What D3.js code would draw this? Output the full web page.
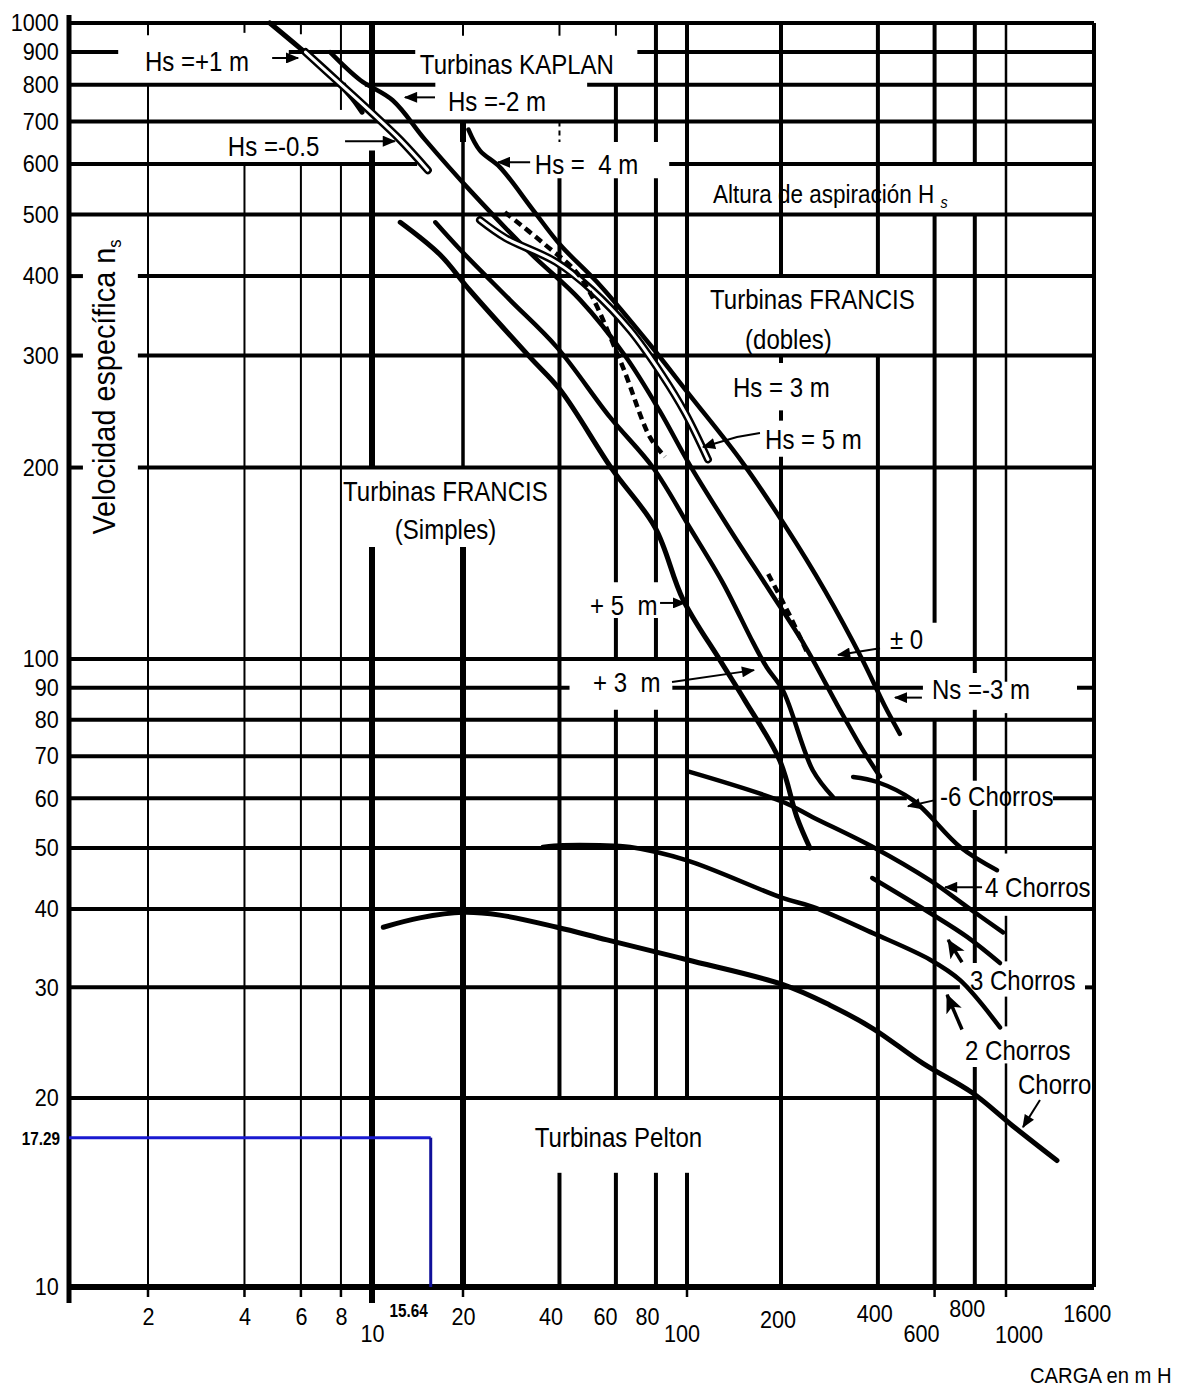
<!DOCTYPE html>
<html lang="es">
<head>
<meta charset="utf-8">
<title>Velocidad específica en función de la carga</title>
<script src="https://cdn.jsdelivr.net/npm/d3@7"></script>
<style>
  html, body { margin: 0; padding: 0; background: #fff; }
  svg text { font-family: "Liberation Sans", Arial, sans-serif; fill: #000; white-space: pre; }
</style>
</head>
<body>
<svg id="chart" width="1191" height="1389"></svg>
<script>
// ---------- Axis ticks ----------
const headTicks = [2, 4, 6, 8, 10, 15.64, 20, 40, 60, 80, 100, 200, 400, 600, 800, 1000, 1600];
const nsTicks = [10, 17.29, 20, 30, 40, 50, 60, 70, 80, 90, 100, 200, 300, 400, 500, 600, 700, 800, 900, 1000];

// ---------- Operating point ----------
const designHead = 15.64;
const designNs = 17.29;

// ---------- Curves: [carga H (m), velocidad específica ns] ----------
const kaplanHsPlus1 = [[4.8, 1000], [5.96, 913], [7.4, 831], [8.66, 762], [9.31, 724]];
const kaplanHsMinus05 = [[6.2, 900], [7.9, 805], [10, 722], [12.4, 655], [15.3, 587]];
const francisHsZero = [[7.4, 900], [9.2, 813], [11.7, 756], [15, 655], [21, 546], [32.4, 435], [46.4, 367],
  [64, 300], [82, 246], [102, 202], [137, 160], [184, 128], [237, 105], [301, 84], [357, 72], [406, 65]];
const francisHsMinus3 = [[20.8, 680], [22.6, 630], [26.1, 593], [33.1, 508], [40.2, 448],
  [53.5, 387], [76.7, 312], [102, 260], [148, 206], [206, 162], [274, 128], [357, 100], [421, 84], [468, 76]];
const simplesPlus5 = [[12.4, 486], [16.8, 432], [21, 380], [32.4, 298], [40.2, 265], [58.3, 199], [79.5, 161],
  [97.2, 124], [127.5, 99.6], [153, 86], [198, 69], [224, 56], [246, 50]];
const simplesPlus3 = [[16.2, 486], [19.6, 440], [28, 367], [39.3, 309], [57.5, 240], [78.3, 200], [102, 161],
  [130, 132], [163, 106], [180, 97], [203, 89], [251, 66.5], [290, 60.3]];
const doblesHs5Upper = [[27, 504], [36.1, 448], [46.4, 399], [61.8, 295], [76.7, 223], [85.4, 208]];
const doblesHs5Lower = [[182, 136], [213, 117], [243, 101.5]];
const doblesHs3 = [[22.6, 490], [27.2, 459], [39, 421], [50.6, 380], [66.4, 329], [83.5, 280], [98.6, 244], [116.7, 206]];
const peltonOneJet = [[10.9, 37.4], [14.4, 38.7], [20, 39.5], [26.1, 39.1], [39.3, 37.4], [56.3, 35.7], [100, 33.2],
  [203, 30.3], [284, 28.1], [386, 25.8], [552, 22.7], [784, 20.4], [1032, 18.1], [1313, 15.9]];
const peltonTwoJets = [[35.5, 50.2], [41, 50.5], [53.5, 50.5], [66.4, 50.2], [100, 47.8], [203, 41.6], [251, 40.3],
  [386, 36.6], [581, 33.2], [720, 30.8], [958, 25.9]];
const peltonThreeJets = [[384, 44.8], [581, 39.4], [757, 36.1], [958, 32.8]];
const peltonFourJets = [[102, 66.1], [203, 59.2], [251, 56], [386, 50.2], [581, 44.4], [757, 40.3], [979, 36.7]];
const peltonSixJets = [[335, 64.9], [398, 63.7], [514, 59.6], [720, 50.2], [938, 46.1]];

// ---------- Rulings of the nomogram: value and the stretches it covers ----------
const vRules = [
  [2, [[1000, 957], [800, 10]]],
  [4, [[1000, 965], [600, 10]]],
  [6, [[1000, 960], [600, 10]]],
  [8, [[1000, 730], [600, 10]]],
  [10, [[1000, 715], [630, 200], [150, 10]]],
  [20, [[1000, 955], [700, 200], [150, 10]]],
  [40, [[1000, 955], [570, 20], [15.2, 10]]],
  [60, [[1000, 955], [800, 650], [570, 132], [116, 100], [83, 20], [15.2, 10]]],
  [80, [[1000, 650], [570, 132], [116, 100], [83, 20], [15.2, 10]]],
  [100, [[1000, 20], [15.2, 10]]],
  [200, [[1000, 400], [300, 292], [246, 237], [208, 10]]],
  [400, [[1000, 400], [300, 10]]],
  [600, [[1000, 600], [500, 114], [80, 10]]],
  [800, [[1000, 600], [500, 95], [83, 64], [57.5, 32.8], [22.4, 10]]],
  [1000, [[1000, 92], [82, 49], [39, 33], [29, 26], [22.7, 10]]],
  [1600, [[1000, 10]]]
];
const hRules = [
  [1000, [[1, 1600]]],
  [900, [[1, 1.54], [5.5, 13.9], [70, 1600]]],
  [800, [[1, 8.3], [9.5, 16.2], [48.8, 1600]]],
  [700, [[1, 1600]]],
  [600, [[1, 14.1], [88, 1600]]],
  [500, [[1, 1600]]],
  [400, [[1, 1.13], [1.83, 1600]]],
  [300, [[1, 1.13], [1.83, 1600]]],
  [200, [[1, 1.13], [1.83, 1600]]],
  [100, [[1, 1600]]],
  [90, [[1, 43], [90, 552], [1461, 1600]]],
  [80, [[1, 1600]]],
  [70, [[1, 1600]]],
  [60, [[1, 492], [1285, 1600]]],
  [50, [[1, 1600]]],
  [40, [[1, 1600]]],
  [30, [[1, 719], [1525, 1600]]],
  [20, [[1, 800]]],
  [10, [[1, 1600]]]
];

// ---------- Annotations ----------
const notes = [
  ["Hs =+1 m", 1.948, 843],
  ["Turbinas KAPLAN", 14.4, 834],
  ["Hs =-2 m", 17.84, 729.5],
  ["Hs =-0.5", 3.55, 620],
  ["Hs =  4 m", 33.5, 580.8],
  ["Turbinas FRANCIS", 118.5, 356],
  ["(dobles)", 153.4, 308],
  ["Hs = 3 m", 140.4, 259],
  ["Hs = 5 m", 177.8, 214.7],
  ["Turbinas FRANCIS", 8.12, 177.8],
  ["(Simples)", 11.9, 155],
  ["+ 5  m", 49.8, 117.7],
  ["± 0", 436, 104],
  ["+ 3  m", 50.9, 88.9],
  ["Ns =-3 m", 589, 86.6],
  ["-6 Chorros", 623.7, 58.5],
  ["4 Chorros", 860.8, 41.9],
  ["3 Chorros", 772.8, 29.8],
  ["2 Chorros", 746, 23.1],
  ["Chorro", 1066, 20.4],
  ["Turbinas Pelton", 33.5, 16.77]
];
const arrows = [
  [[4.88, 881], [5.88, 881]],
  [[16.16, 764], [12.86, 764]],
  [[8.24, 652], [11.9, 652]],
  [[32.4, 604], [25.7, 604]],
  [[171.3, 226.6], [144.6, 223.4], [112.5, 215.4]],
  [[82.4, 122.5], [98.6, 122.5]],
  [[406, 104], [300.7, 101.5]],
  [[89.8, 91.9], [163.9, 96.0]],
  [[548, 86.8], [452, 86.8]],
  [[602, 59.6], [496, 58.3]],
  [[842.6, 43.3], [646.8, 43.3]],
  [[1199, 19.85], [1095, 17.97]]
];
const pointers = [
  [[730, 32.9], [661, 35.7]],
  [[730, 25.7], [656, 29.2]]
];

// ---------- Scales (hand-ruled log paper, piecewise per decade) ----------
const x = d3.scaleLog()
  .domain([1, 2, 10, 20, 100, 200, 1000, 1600])
  .range([69, 148, 372, 463, 687, 781, 1006, 1094]);
const y = d3.scaleLog()
  .domain([10, 100, 1000])
  .range([1287, 659, 23]);

const svg = d3.select("#chart");
svg.append("rect").attr("width", 1191).attr("height", 1389).attr("fill", "#fff");

const defs = svg.append("defs");
defs.append("marker").attr("id", "head")
  .attr("viewBox", "0 0 12 10").attr("refX", 11).attr("refY", 5)
  .attr("markerWidth", 14).attr("markerHeight", 11)
  .attr("markerUnits", "userSpaceOnUse").attr("orient", "auto")
  .append("path").attr("d", "M0,0 L12,5 L0,10 Z").attr("fill", "#000");
defs.append("marker").attr("id", "pointer")
  .attr("viewBox", "0 0 16 14").attr("refX", 15).attr("refY", 7)
  .attr("markerWidth", 19).attr("markerHeight", 17)
  .attr("markerUnits", "userSpaceOnUse").attr("orient", "auto")
  .append("path").attr("d", "M0,0 L16,7 L0,14 L4,7 Z").attr("fill", "#000");

// ---------- Rulings ----------
const grid = svg.append("g").attr("stroke", "#000").attr("fill", "none");
const vWeight = h => (h <= 8 ? 2 : h === 1000 ? 2.5 : 4);
vRules.forEach(([h, spans]) => {
  spans.forEach(s => {
    let w = vWeight(h);
    if (h === 10 || (h === 20 && s[0] <= 150)) w = 6;
    if (h === 20 && s[0] > 150) w = 3.5;
    if ((h === 40 || h === 60 || h === 20) && s[0] === 1000) w = 2;
    grid.append("line")
      .attr("x1", x(h)).attr("x2", x(h))
      .attr("y1", y(s[0])).attr("y2", y(s[1]))
      .attr("stroke-width", w);
  });
});
// dashed stretch of the 40 m ruling
grid.append("line")
  .attr("x1", x(40)).attr("x2", x(40)).attr("y1", y(700)).attr("y2", y(650))
  .attr("stroke-width", 2).attr("stroke-dasharray", "5 4");
// heavier stub of the 20 m ruling below the 700 line
grid.append("line")
  .attr("x1", x(20)).attr("x2", x(20)).attr("y1", y(700)).attr("y2", y(650))
  .attr("stroke-width", 6);

hRules.forEach(([ns, spans]) => {
  spans.forEach(s => {
    grid.append("line")
      .attr("x1", x(s[0])).attr("x2", x(s[1]))
      .attr("y1", y(ns)).attr("y2", y(ns))
      .attr("stroke-width", ns === 10 ? 6 : 4);
  });
});
// left axis line reaching past the bottom ruling
grid.append("line")
  .attr("x1", x(1)).attr("x2", x(1))
  .attr("y1", y(1000) - 8).attr("y2", y(10) + 16)
  .attr("stroke-width", 5);
// tick marks under the head axis
[2, 4, 6, 8, 10, 20, 100, 600, 1000].forEach(h => {
  grid.append("line")
    .attr("x1", x(h)).attr("x2", x(h))
    .attr("y1", y(10)).attr("y2", y(10) + (h === 10 ? 16 : 10))
    .attr("stroke-width", h === 10 ? 6 : 2.5);
});

// ---------- Operating point guides ----------
const blue = svg.append("g").attr("fill", "none").attr("stroke-width", 3);
blue.append("line")
  .attr("x1", x(1)).attr("x2", x(designHead))
  .attr("y1", y(designNs)).attr("y2", y(designNs))
  .attr("stroke", "#1a1ad0");
blue.append("line")
  .attr("x1", x(designHead)).attr("x2", x(designHead))
  .attr("y1", y(designNs)).attr("y2", y(10))
  .attr("stroke", "#10109a");

// ---------- Curves ----------
const line = d3.line()
  .x(d => x(d[0])).y(d => y(d[1]))
  .curve(d3.curveCatmullRom.alpha(0.5));
const curves = svg.append("g").attr("fill", "none").attr("stroke", "#000")
  .attr("stroke-linejoin", "round").attr("stroke-linecap", "round");

function solid(data, w) {
  curves.append("path").attr("d", line(data)).attr("stroke-width", w);
}
function hollow(data) {
  curves.append("path").attr("d", line(data)).attr("stroke-width", 8);
  curves.append("path").attr("d", line(data)).attr("stroke-width", 3).attr("stroke", "#fff");
}
function dashed(data) {
  curves.append("path").attr("d", line(data)).attr("stroke-width", 4.5)
    .attr("stroke-dasharray", "8 5").attr("stroke-linecap", "butt");
}

solid(kaplanHsPlus1, 5);
hollow(kaplanHsMinus05);
solid(francisHsZero, 4.5);
solid(francisHsMinus3, 4.5);
solid(simplesPlus5, 5);
solid(simplesPlus3, 4.5);
hollow(doblesHs3);
dashed(doblesHs5Upper);
dashed(doblesHs5Lower);
solid(peltonOneJet, 5);
solid(peltonTwoJets, 4.5);
solid(peltonThreeJets, 4.5);
solid(peltonFourJets, 4.5);
solid(peltonSixJets, 4.5);

// ---------- Text helpers ----------
const SQ = 0.87;
function label(parent, str, px, py, size, anchor, sx, weight) {
  const t = parent.append("text")
    .attr("transform", `translate(${px},${py}) scale(${sx},1)`)
    .attr("font-size", size)
    .attr("text-anchor", anchor)
    .text(str);
  if (weight) t.attr("font-weight", weight);
  return t;
}

// ---------- Axes ----------
const yAxis = svg.append("g").attr("transform", "translate(66,0)")
  .call(d3.axisLeft(y).tickValues(nsTicks.filter(v => v !== designNs))
    .tickSize(0).tickPadding(8).tickFormat(d3.format("d")));
yAxis.select(".domain").remove();
yAxis.selectAll("text")
  .attr("font-size", 24).attr("font-family", null)
  .attr("transform", `scale(${SQ + 0.03},1)`);
label(svg, "17.29", 60, y(designNs) + 7, 18, "end", 0.85, "bold");

// staggered head labels: [dx, dy] nudges off the tick
const tickNudge = { 10: [0, 17], 40: [-10, 0], 60: [-12, 0], 80: [-10, 0], 100: [-6, 17],
  200: [-4, 3], 400: [-4, -3], 600: [-15, 17], 800: [-9, -8], 1000: [14, 18], 1600: [-8, -3] };
const xAxis = svg.append("g").attr("transform", `translate(0,${y(10)})`)
  .call(d3.axisBottom(x).tickValues(headTicks.filter(v => v !== designHead))
    .tickSize(0).tickPadding(21).tickFormat(d3.format("d")));
xAxis.select(".domain").remove();
xAxis.selectAll(".tick text")
  .attr("font-size", 24).attr("font-family", null)
  .attr("x", d => (tickNudge[d] ? tickNudge[d][0] : 0))
  .attr("y", d => 21 + (tickNudge[d] ? tickNudge[d][1] : 0))
  .attr("transform", `scale(${SQ + 0.03},1)`);
label(svg, "15.64", x(designHead) - 3, y(10) + 30, 18, "end", 0.85, "bold");

// axis titles
const yTitle = svg.append("text")
  .attr("transform", "translate(115,387) rotate(-90) scale(0.93,1)")
  .attr("text-anchor", "middle").attr("font-size", 31);
yTitle.append("tspan").text("Velocidad específica n");
yTitle.append("tspan").attr("font-size", 18).attr("dy", 6).text("s");

label(svg, "CARGA en m H", 1030, 1383, 22, "start", 0.92);

// ---------- Annotations ----------
const ann = svg.append("g");
notes.forEach(([str, h, ns]) => {
  label(ann, str, x(h), y(ns) + 1, 27, "start", SQ + 0.02);
});
// "Altura de aspiración Hs" with subscript
const alt = ann.append("text")
  .attr("transform", `translate(${x(121.1)},${y(521)}) scale(0.9,1)`)
  .attr("font-size", 25);
alt.append("tspan").text("Altura de aspiración H ");
alt.append("tspan").attr("font-size", 16).attr("dy", 5).attr("font-style", "italic").text("s");

const arrowLine = d3.line().x(d => x(d[0])).y(d => y(d[1]));
const arr = svg.append("g").attr("fill", "none").attr("stroke", "#000");
arrows.forEach(a => {
  arr.append("path").attr("d", arrowLine(a)).attr("stroke-width", 2)
    .attr("marker-end", "url(#head)");
});
pointers.forEach(a => {
  arr.append("path").attr("d", arrowLine(a)).attr("stroke-width", 3.5)
    .attr("marker-end", "url(#pointer)");
});
</script>
</body>
</html>
